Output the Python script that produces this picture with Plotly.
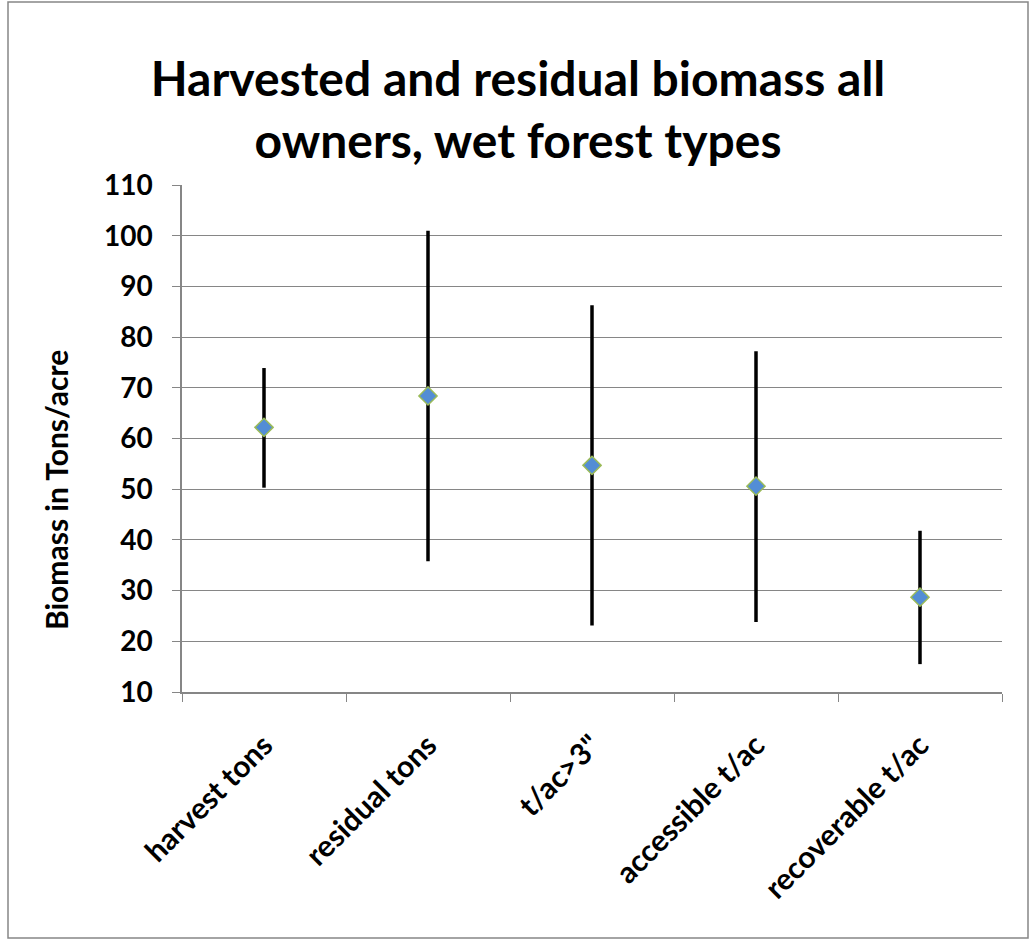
import plotly.graph_objects as go

categories = ["harvest tons", "residual tons", "t/ac>3\"", "accessible t/ac", "recoverable t/ac"]
mean_vals = [62.2, 68.4, 54.7, 50.6, 28.7]
upper_vals = [73.9, 101.0, 86.3, 77.2, 41.8]
lower_vals = [50.3, 35.8, 23.1, 23.8, 15.5]

err_plus = [u - m for u, m in zip(upper_vals, mean_vals)]
err_minus = [m - l for m, l in zip(mean_vals, lower_vals)]

FONT = "Lato"

fig = go.Figure()
fig.add_trace(go.Scatter(
    x=categories, y=mean_vals, mode="markers",
    marker=dict(symbol="diamond", size=14, color="#538DD5",
                line=dict(color="#9BBB59", width=1.5)),
    error_y=dict(type="data", symmetric=False, array=err_plus, arrayminus=err_minus,
                 color="black", thickness=3.5, width=0),
    showlegend=False,
))

W, H = 1036, 944
L, R, T, B = 182, 34, 185, 252
pw, ph = W - L - R, H - T - B

def px_x(x):
    return (x - L) / pw

def px_y(y):
    return (H - B - y) / ph

fig.update_layout(
    width=W, height=H,
    margin=dict(l=L, r=R, t=T, b=B),
    paper_bgcolor="white", plot_bgcolor="white",
    font=dict(family=FONT, color="black"),
    title=dict(text="<b>Harvested and residual biomass all<br>owners, wet forest types</b>",
               x=0.5, xanchor="center", y=1 - 96 / H, yanchor="middle",
               font=dict(size=48, family=FONT, color="black")),
    xaxis=dict(
        type="category", tickson="boundaries", ticks="outside", ticklen=8,
        tickcolor="#868686", showline=True, linecolor="#868686", linewidth=1.5,
        showgrid=False, tickangle=-45, ticklabelstandoff=22,
        tickfont=dict(size=30, family=FONT, color="black", weight="bold"),
        range=[-0.5, 4.5],
    ),
    yaxis=dict(
        range=[10, 110], dtick=10, tick0=10, ticks="outside", ticklen=8,
        tickcolor="#868686", showline=True, linecolor="#868686", linewidth=1.5,
        showgrid=True, gridcolor="#868686", gridwidth=1, zeroline=False,
        ticklabelstandoff=14,
        tickfont=dict(size=28, family=FONT, color="black", weight="bold"),
    ),
    annotations=[dict(
        text="<b>Biomass in Tons/acre</b>", textangle=-90,
        xref="paper", yref="paper", x=px_x(56), y=px_y(490),
        xanchor="center", yanchor="middle", showarrow=False,
        font=dict(size=30, family=FONT, color="black"),
    )],
    shapes=[dict(
        type="rect", xref="paper", yref="paper",
        x0=px_x(8), x1=px_x(1028), y0=px_y(938), y1=px_y(2),
        line=dict(color="#868686", width=1.5), fillcolor="rgba(0,0,0,0)", layer="below",
    )],
)

fig.write_html("out.html")
